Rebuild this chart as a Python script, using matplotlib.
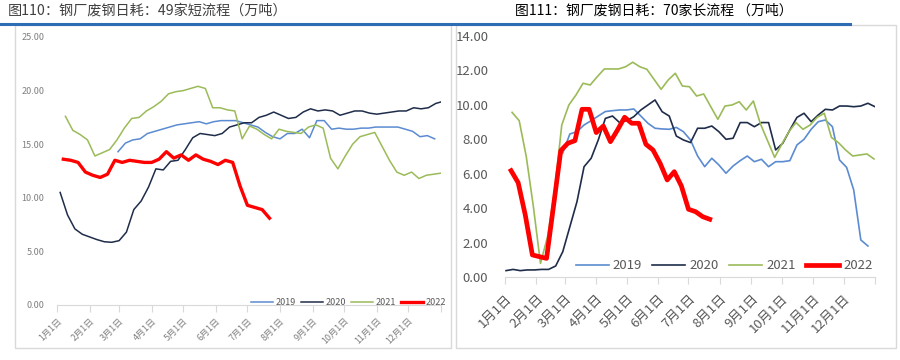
import numpy as np
import matplotlib
matplotlib.use("Agg")
import matplotlib.pyplot as plt
from matplotlib.patches import Rectangle
from matplotlib.lines import Line2D

plt.rcParams['font.family'] = ['Noto Sans CJK SC', 'DejaVu Sans']

# month ticks (day of year) and labels
month_days = [0, 31, 59, 90, 120, 151, 181, 212, 243, 273, 304, 334]
month_labels = [f"{m}月1日" for m in range(1, 13)]
years = ['2019', '2020', '2021', '2022']
colors = ['#5B8BD0', '#1F2D4A', '#9BBB59', '#FF0000']

# left chart: 49 short-process mills, weekly values
short_2019 = [14.3, 15.1, 15.4, 15.5, 16.0, 16.2, 16.4, 16.6, 16.8, 16.9, 17.0, 17.1, 16.9, 17.1,
              17.2, 17.2, 17.2, 17.0, 16.8, 16.6, 16.1, 15.7, 15.5, 16.0, 16.0, 16.4, 15.6, 17.2,
              17.2, 16.4, 16.5, 16.4, 16.4, 16.5, 16.5, 16.6, 16.6, 16.6, 16.6, 16.4, 16.2, 15.7,
              15.8, 15.5]
short_2020 = [10.5, 8.4, 7.1, 6.6, 6.35, 6.1, 5.9, 5.85, 6.0, 6.8, 8.9, 9.7, 11.0, 12.7, 12.6, 13.4,
              13.5, 14.5, 15.6, 16.0, 15.9, 15.8, 16.0, 16.6, 16.8, 17.0, 17.0, 17.5, 17.7, 18.0,
              17.7, 17.4, 17.5, 18.0, 18.3, 18.1, 18.2, 18.1, 17.7, 17.9, 18.1, 18.1, 17.9, 17.8,
              17.9, 18.0, 18.1, 18.1, 18.4, 18.3, 18.4, 18.8, 19.0]
short_2021 = [17.6, 16.3, 15.9, 15.4, 13.9, 14.2, 14.5, 15.4, 16.5, 17.4, 17.5, 18.1, 18.5, 19.0,
              19.7, 19.9, 20.0, 20.2, 20.4, 20.2, 18.4, 18.4, 18.2, 18.1, 15.5, 16.7, 16.4, 15.9,
              15.5, 16.4, 16.2, 16.1, 16.0, 16.6, 16.8, 16.5, 13.7, 12.7, 13.9, 15.0, 15.7, 15.9,
              16.1, 14.8, 13.5, 12.4, 12.1, 12.4, 11.8, 12.1, 12.2, 12.3]
short_2022 = [13.6, 13.5, 13.3, 12.4, 12.1, 11.9, 12.2, 13.5, 13.3, 13.5, 13.4, 13.3, 13.3, 13.6,
              14.3, 13.7, 14.0, 13.5, 14.0, 13.6, 13.4, 13.1, 13.5, 13.3, 11.1, 9.3, 9.1, 8.9, 8.1]
short_start = [58, 3, 8, 6]  # first day of each series

# right chart: 70 long-process mills, weekly values
long_2019 = [7.2, 8.3, 8.43, 8.82, 9.07, 9.34, 9.6, 9.65, 9.69, 9.69, 9.75, 9.34, 8.92, 8.63, 8.59,
             8.57, 8.68, 8.43, 7.95, 7.02, 6.4, 6.89, 6.5, 6.02, 6.44, 6.75, 7.02, 6.69, 6.83, 6.4,
             6.69, 6.69, 6.75, 7.66, 7.99, 8.57, 9.01, 9.11, 8.72, 6.79, 6.36, 5.05, 2.15, 1.8]
long_2020 = [0.37, 0.44, 0.37, 0.41, 0.41, 0.44, 0.44, 0.64, 1.47, 2.92, 4.37, 6.4, 6.89, 7.95, 9.2,
             9.34, 8.96, 9.07, 9.3, 9.69, 9.98, 10.27, 9.59, 9.34, 8.18, 7.95, 7.8, 8.63, 8.63, 8.76,
             8.43, 7.99, 8.05, 8.96, 8.96, 8.72, 8.96, 8.96, 7.37, 7.76, 8.53, 9.26, 9.5, 9.01, 9.4,
             9.73, 9.69, 9.92, 9.92, 9.88, 9.92, 10.08, 9.88]
long_2021 = [9.55, 9.07, 6.98, 4.08, 0.79, 2.34, 5.05, 8.82, 9.98, 10.56, 11.24, 11.14, 11.62, 12.07,
             12.07, 12.07, 12.2, 12.46, 12.2, 12.05, 11.47, 10.89, 11.43, 11.82, 11.08, 11.04, 10.5,
             10.62, 9.88, 9.15, 9.92, 9.98, 10.17, 9.69, 10.21, 8.88, 7.91, 6.94, 7.7, 8.43, 8.96,
             8.57, 8.82, 9.27, 9.5, 8.1, 7.79, 7.37, 7.02, 7.08, 7.14, 6.85]
long_2022 = [6.17, 5.47, 3.6, 1.28, 1.18, 1.08, 4.18, 7.33, 7.76, 7.91, 9.73, 9.73, 8.38, 8.76, 7.85,
             8.53, 9.27, 8.92, 8.92, 7.7, 7.37, 6.6, 5.63, 6.11, 5.28, 3.93, 3.79, 3.5, 3.35]
long_start = [57, 1, 7, 6]

fig = plt.figure(figsize=(9, 3.6), dpi=100)

# panel frames and title underline
fig.patches.append(Rectangle((15/900, 1-348/360), 436/900, 323/360, transform=fig.transFigure,
                             fill=False, ec='#D9D9D9', lw=1))
fig.patches.append(Rectangle((456/900, 1-348/360), 440/900, 323/360, transform=fig.transFigure,
                             fill=False, ec='#D9D9D9', lw=1))
fig.add_artist(Line2D([0, 850/900], [1-24/360, 1-24/360], color='#2E6DB4', lw=2.2))

fig.text(8/900, 1-11/360, "图110：钢厂废钢日耗：49家短流程（万吨）", fontsize=10.2,
         color='#404040', va='center')
fig.text(515/900, 1-11/360, "图111：钢厂废钢日耗：70家长流程 （万吨）", fontsize=10,
         color='#000000', va='center')


def style_axis(ax, ylim, ystep, fs, lab_color, ypad, xpad):
    ax.set_xlim(0, 365)
    ax.set_ylim(*ylim)
    ax.set_yticks(np.arange(ylim[0], ylim[1] + 0.01, ystep))
    ax.yaxis.set_major_formatter(matplotlib.ticker.FormatStrFormatter('%.2f'))
    ax.set_xticks(month_days + [365])
    ax.set_xticklabels(month_labels + [''], rotation=45, ha='right', rotation_mode='anchor')
    for s in ['top', 'right', 'left']:
        ax.spines[s].set_visible(False)
    ax.spines['bottom'].set_color('#D9D9D9')
    ax.tick_params(axis='y', length=0, labelsize=fs, labelcolor=lab_color, pad=ypad)
    ax.tick_params(axis='x', length=5, color='#D9D9D9', labelsize=fs, labelcolor=lab_color, pad=xpad)
    ax.patch.set_alpha(0)


# left chart
ax1 = fig.add_axes([57/900, 1-305/360, 384/900, 268/360])
short = [short_2019, short_2020, short_2021, short_2022]
for i, vals in enumerate(short):
    x = short_start[i] + 7*np.arange(len(vals))
    ax1.plot(x, vals, color=colors[i], lw=2.4 if i == 3 else 1.1, label=years[i])
style_axis(ax1, (0, 25), 5, 6.5, '#7F7F7F', 9, 3)
ax1.legend(ncol=4, loc='center right', bbox_to_anchor=(1.035, 0.01), frameon=False, fontsize=6.5,
           handlelength=2.4, columnspacing=0.6, handletextpad=0.3, labelcolor='#595959')

# right chart
ax2 = fig.add_axes([505/900, 1-277/360, 370/900, 241.3/360])
long = [long_2019, long_2020, long_2021, long_2022]
for i, vals in enumerate(long):
    x = long_start[i] + 7*np.arange(len(vals))
    ax2.plot(x, vals, color=colors[i], lw=3.4 if i == 3 else 1.2, label=years[i])
style_axis(ax2, (0, 14), 2, 9.5, '#595959', 12, 6)
ax2.legend(ncol=4, loc='center right', bbox_to_anchor=(1.025, 0.046), frameon=False, fontsize=9.5,
           handlelength=2.5, columnspacing=0.8, handletextpad=0.3, labelcolor='#595959')

fig.savefig('out.png', dpi=100)
